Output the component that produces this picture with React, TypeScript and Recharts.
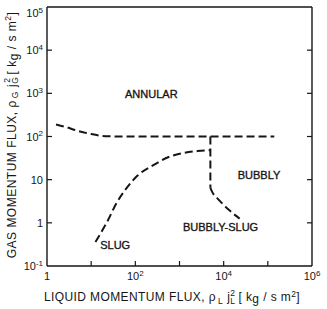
import { ComposedChart, Line, XAxis, YAxis, ReferenceDot } from "recharts"

const FONT = "'Liberation Sans', Arial, Helvetica, sans-serif"
const INK = "#161616"

// decade ticks, only some are labelled on the x axis
const xTicks = [1, 10, 100, 1e3, 1e4, 1e5, 1e6]
const xTickLabels = ["1", "", "10^2", "", "10^4", "", "10^6"]
const yTicks = [0.1, 1, 10, 100, 1e3, 1e4, 1e5]
const yTickLabels = ["10^-1", "1", "10", "10^2", "10^3", "10^4", "10^5"]

// annular / slug boundary
const annularBoundary = [
  { x: 1.6, y: 190 },
  { x: 2.7, y: 165 },
  { x: 5, y: 135 },
  { x: 10, y: 114 },
  { x: 24, y: 101 },
  { x: 60, y: 100 },
  { x: 5000, y: 100 },
  { x: 1.4e5, y: 100 },
]

// slug / bubbly boundary, vertical part
const bubblyWall = [
  { x: 5000, y: 100 },
  { x: 5000, y: 6.5 },
]

// bubbly-slug tail
const bubblySlugTail = [
  { x: 5000, y: 6.5 },
  { x: 5600, y: 5 },
  { x: 7400, y: 3.6 },
  { x: 13500, y: 1.95 },
  { x: 23000, y: 1.25 },
]

// slug upper boundary
const slugBoundary = [
  { x: 12.5, y: 0.36 },
  { x: 24, y: 1.15 },
  { x: 37, y: 2.8 },
  { x: 62, y: 6.2 },
  { x: 114, y: 12.6 },
  { x: 250, y: 21.5 },
  { x: 550, y: 33 },
  { x: 1170, y: 41 },
  { x: 2560, y: 46 },
  { x: 5000, y: 48 },
]

const regionNames = ["ANNULAR", "BUBBLY", "BUBBLY-SLUG", "SLUG"]
const regionX = [230, 63000, 8500, 35]
const regionY = [980, 13, 0.81, 0.3]

function PowerText({ x, y, label, anchor }: { x: number; y: number; label: string; anchor: "start" | "middle" | "end" }) {
  const [base, exp] = label.split("^")
  return (
    <text x={x} y={y} textAnchor={anchor} fontSize={11} fontFamily={FONT} fill={INK}>
      {base}
      {exp && (
        <tspan dy={-4.5} fontSize={8}>
          {exp}
        </tspan>
      )}
    </text>
  )
}

function BottomTick(props: any) {
  const { x, y, payload } = props
  const i = xTicks.indexOf(payload.value)
  const label = xTickLabels[i] ?? ""
  const inner = i > 0 && i < xTicks.length - 1
  return (
    <g>
      {inner && <line x1={x} x2={x} y1={y} y2={y - 5} stroke={INK} strokeWidth={1.2} />}
      {label && <PowerText x={x} y={y + 14} label={label} anchor="middle" />}
    </g>
  )
}

function TopTick(props: any) {
  const { x, y, payload } = props
  const i = xTicks.indexOf(payload.value)
  if (i <= 0 || i >= xTicks.length - 1) return null
  return <line x1={x} x2={x} y1={y} y2={y + 5} stroke={INK} strokeWidth={1.2} />
}

function LeftTick(props: any) {
  const { x, y, payload } = props
  const i = yTicks.indexOf(payload.value)
  const inner = i > 0 && i < yTicks.length - 1
  const base = Math.max(y + 4, 17)
  return (
    <g>
      {inner && <line x1={x} x2={x + 5} y1={y} y2={y} stroke={INK} strokeWidth={1.2} />}
      <PowerText x={x - 4} y={base} label={yTickLabels[i] ?? ""} anchor="end" />
    </g>
  )
}

function RightTick(props: any) {
  const { x, y, payload } = props
  const i = yTicks.indexOf(payload.value)
  if (i <= 0 || i >= yTicks.length - 1) return null
  return <line x1={x} x2={x - 5} y1={y} y2={y} stroke={INK} strokeWidth={1.2} />
}

function XTitle() {
  return (
    <text x={172} y={301} textAnchor="middle" fontSize={12} letterSpacing={0.4} fontFamily={FONT} fill={INK}>
      {"LIQUID  MOMENTUM  FLUX,  ρ"}
      <tspan dx={2} dy={3} fontSize={8.5}>L</tspan>
      <tspan dx={4} dy={-3}>j</tspan>
      <tspan dy={3} fontSize={8.5}>L</tspan>
      <tspan dx={-5} dy={-8.5} fontSize={8.5}>2</tspan>
      <tspan dx={3} dy={5.5}>{"[ k"}</tspan>
      <tspan dy={2}>g</tspan>
      <tspan dy={-2}>{" / s m"}</tspan>
      <tspan dy={-4.5} fontSize={8.5}>2</tspan>
      <tspan dy={4.5}>]</tspan>
    </text>
  )
}

function YTitle() {
  return (
    <text
      x={13}
      y={135}
      transform="rotate(-90 13 135)"
      dominantBaseline="middle"
      textAnchor="middle"
      fontSize={12}
      letterSpacing={0.5}
      fontFamily={FONT}
      fill={INK}
    >
      {"GAS  MOMENTUM  FLUX,  ρ"}
      <tspan dx={2} dy={3} fontSize={8.5}>G</tspan>
      <tspan dx={4} dy={-3}>j</tspan>
      <tspan dy={3} fontSize={8.5}>G</tspan>
      <tspan dx={-6} dy={-8.5} fontSize={8.5}>2</tspan>
      <tspan dx={3} dy={5.5}>{"[ k"}</tspan>
      <tspan dy={2}>g</tspan>
      <tspan dy={-2}>{" / s m"}</tspan>
      <tspan dy={-4.5} fontSize={8.5}>2</tspan>
      <tspan dy={4.5}>]</tspan>
    </text>
  )
}

const lineProps = {
  dataKey: "y",
  stroke: INK,
  strokeWidth: 2,
  strokeDasharray: "8 4",
  dot: false,
  activeDot: false,
  isAnimationActive: false,
} as const

export default function App() {
  return (
    <div style={{ position: "absolute", left: 0, top: 0, background: "#fff" }}>
      <ComposedChart width={327} height={309} margin={{ top: 6, right: 14, bottom: 13, left: 7 }}>
        <XAxis
          dataKey="x"
          type="number"
          scale="log"
          domain={[1, 1e6]}
          ticks={xTicks}
          allowDataOverflow
          height={30}
          tickSize={0}
          tickMargin={0}
          tickLine={false}
          axisLine={{ stroke: INK, strokeWidth: 1.4 }}
          tick={<BottomTick />}
          interval={0}
          label={<XTitle />}
        />
        <XAxis
          xAxisId="top"
          orientation="top"
          type="number"
          scale="log"
          domain={[1, 1e6]}
          ticks={xTicks}
          allowDataOverflow
          height={1}
          tickSize={0}
          tickMargin={0}
          tickLine={false}
          axisLine={{ stroke: INK, strokeWidth: 1.4 }}
          tick={<TopTick />}
          interval={0}
        />
        <YAxis
          type="number"
          scale="log"
          domain={[0.1, 1e5]}
          ticks={yTicks}
          allowDataOverflow
          width={40}
          tickSize={0}
          tickMargin={0}
          tickLine={false}
          axisLine={{ stroke: INK, strokeWidth: 1.4 }}
          tick={<LeftTick />}
          interval={0}
          label={<YTitle />}
        />
        <YAxis
          yAxisId="right"
          orientation="right"
          type="number"
          scale="log"
          domain={[0.1, 1e5]}
          ticks={yTicks}
          allowDataOverflow
          width={1}
          tickSize={0}
          tickMargin={0}
          tickLine={false}
          axisLine={{ stroke: INK, strokeWidth: 1.4 }}
          tick={<RightTick />}
          interval={0}
        />
        <Line data={annularBoundary} type="monotone" {...lineProps} />
        <Line data={bubblyWall} type="linear" {...lineProps} />
        <Line data={bubblySlugTail} type="monotone" {...lineProps} />
        <Line data={slugBoundary} type="monotone" {...lineProps} />
        {regionNames.map((name, i) => (
          <ReferenceDot
            key={name}
            x={regionX[i]}
            y={regionY[i]}
            r={0}
            fill="none"
            stroke="none"
            ifOverflow="visible"
            label={{
              value: name,
              position: "center",
              fontSize: 11,
              fill: INK,
              stroke: INK,
              strokeWidth: 0.35,
              fontFamily: FONT,
            }}
          />
        ))}
      </ComposedChart>
    </div>
  )
}
